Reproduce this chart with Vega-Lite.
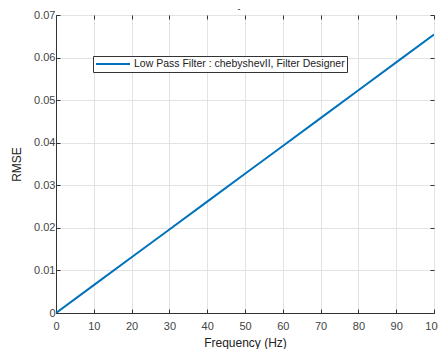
{
  "$schema": "https://vega.github.io/schema/vega-lite/v6.json",
  "width": 378,
  "height": 298,
  "autosize": {"type": "none"},
  "padding": {"left": 56, "top": 15, "right": 4, "bottom": 36},
  "background": "white",
  "title": {"text": "-", "fontSize": 9, "fontWeight": "normal", "color": "#222", "font": "Liberation Sans", "offset": -5, "dx": -6},
  "config": {
    "font": "Liberation Sans",
    "view": {"stroke": "#333", "strokeWidth": 1},
    "axis": {
      "gridColor": "#e3e3e3",
      "gridOpacity": 1,
      "domainColor": "#333",
      "tickColor": "#333",
      "tickSize": -4,
      "labelFlush": false,
      "labelColor": "#444",
      "labelFontSize": 11,
      "titleColor": "#222",
      "titleFontSize": 12,
      "titleFontWeight": "normal"
    }
  },
  "data": {
    "values": [
      {"f": 0, "rmse": 0, "s": "Low Pass Filter : chebyshevII, Filter Designer"},
      {"f": 10, "rmse": 0.00654, "s": "Low Pass Filter : chebyshevII, Filter Designer"},
      {"f": 20, "rmse": 0.01308, "s": "Low Pass Filter : chebyshevII, Filter Designer"},
      {"f": 30, "rmse": 0.01962, "s": "Low Pass Filter : chebyshevII, Filter Designer"},
      {"f": 40, "rmse": 0.02616, "s": "Low Pass Filter : chebyshevII, Filter Designer"},
      {"f": 50, "rmse": 0.0327, "s": "Low Pass Filter : chebyshevII, Filter Designer"},
      {"f": 60, "rmse": 0.03924, "s": "Low Pass Filter : chebyshevII, Filter Designer"},
      {"f": 70, "rmse": 0.04578, "s": "Low Pass Filter : chebyshevII, Filter Designer"},
      {"f": 80, "rmse": 0.05232, "s": "Low Pass Filter : chebyshevII, Filter Designer"},
      {"f": 90, "rmse": 0.05886, "s": "Low Pass Filter : chebyshevII, Filter Designer"},
      {"f": 100, "rmse": 0.0654, "s": "Low Pass Filter : chebyshevII, Filter Designer"}
    ]
  },
  "layer": [
    {
      "mark": {"type": "line", "strokeWidth": 2, "clip": true},
      "encoding": {
        "x": {
          "field": "f", "type": "quantitative",
          "scale": {"domain": [0, 100], "nice": false},
          "axis": {"values": [0,10,20,30,40,50,60,70,80,90,100], "title": "Frequency (Hz)", "labelPadding": 11, "titlePadding": 6}
        },
        "y": {
          "field": "rmse", "type": "quantitative",
          "scale": {"domain": [0, 0.07], "nice": false},
          "axis": {"values": [0,0.01,0.02,0.03,0.04,0.05,0.06,0.07], "format": "~g", "title": "RMSE", "labelPadding": 5, "titlePadding": 10}
        },
        "color": {
          "field": "s", "type": "nominal",
          "scale": {"range": ["#0072BD"]},
          "legend": {
            "title": null,
            "orient": "none",
            "legendX": 37,
            "legendY": 41,
            "symbolType": "M-1,0H5.8",
            "symbolSize": 100,
            "symbolStrokeWidth": 2,
            "labelFontSize": 10.5,
            "labelColor": "#222",
            "labelLimit": 400,
            "strokeColor": "#333",
            "fillColor": "white",
            "padding": 2,
            "labelOffset": 27
          }
        }
      }
    },
    {
      "mark": {"type": "line", "opacity": 0},
      "encoding": {
        "x": {
          "field": "f", "type": "quantitative",
          "scale": {"domain": [0, 100], "nice": false},
          "axis": {"orient": "top", "values": [0,10,20,30,40,50,60,70,80,90,100], "labels": false, "title": null, "grid": false, "domain": false}
        },
        "y": {
          "field": "rmse", "type": "quantitative",
          "scale": {"domain": [0, 0.07], "nice": false},
          "axis": {"orient": "right", "values": [0,0.01,0.02,0.03,0.04,0.05,0.06,0.07], "labels": false, "title": null, "grid": false, "domain": false}
        }
      }
    }
  ],
  "resolve": {"axis": {"x": "independent", "y": "independent"}}
}
